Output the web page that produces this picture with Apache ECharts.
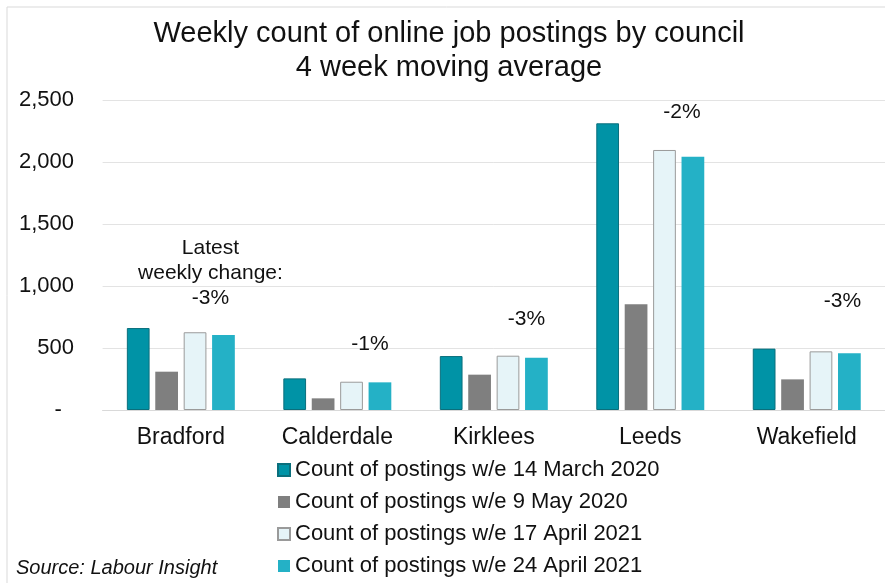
<!DOCTYPE html>
<html>
<head>
<meta charset="utf-8">
<script src="https://cdn.jsdelivr.net/npm/echarts@6/dist/echarts.min.js"></script>
<style>
html,body{margin:0;padding:0;background:#fff;}
#chart{width:885px;height:583px;}
</style>
</head>
<body>
<div id="chart"></div>
<script>
// ---- data ----
var councils = ['Bradford', 'Calderdale', 'Kirklees', 'Leeds', 'Wakefield'];
var seriesNames = [
  'Count of postings w/e 14 March 2020',
  'Count of postings w/e 9 May 2020',
  'Count of postings w/e 17 April 2021',
  'Count of postings w/e 24 April 2021'
];
var mar2020 = [661, 255, 435, 2312, 495];
var may2020 = [309, 94, 285, 852, 247];
var apr17_2021 = [627, 228, 438, 2097, 473];
var apr24_2021 = [605, 223, 422, 2043, 457];
var weeklyChange = ['-3%', '-1%', '-3%', '-2%', '-3%'];
var yTicks = [0, 500, 1000, 1500, 2000, 2500];

// ---- styles ----
var FONT = "'Liberation Sans', Arial, sans-serif";
var TXT = '#111111';
var colors = ['#0093a6', '#7f7f7f', '#e6f4f8', '#24b1c6'];
var borders = [
  {borderColor: '#0a6f7c', borderWidth: 1},
  {borderWidth: 0},
  {borderColor: '#9a9a9a', borderWidth: 1},
  {borderWidth: 0}
];
// label nudges (style only)
var labelDx = [-13, -10, -10, -11, -7];
var labelDy = [-24.5, -25.5, -25.5, -31.5, -39.5];

var allValues = [mar2020, may2020, apr17_2021, apr24_2021];

var series = allValues.map(function (vals, si) {
  var s = {
    name: seriesNames[si],
    type: 'bar',
    barGap: '25%',
    barCategoryGap: '31%',
    itemStyle: Object.assign({color: colors[si]}, borders[si]),
    emphasis: {disabled: true},
    data: vals.slice()
  };
  if (si === 3) {
    s.data = vals.map(function (v, i) {
      var txt = (i === 0 ? 'Latest\nweekly change:\n' : '') + weeklyChange[i];
      return {
        value: v,
        label: {
          show: true,
          position: 'top',
          distance: 0,
          offset: [labelDx[i], labelDy[i]],
          formatter: txt,
          fontFamily: FONT,
          fontSize: 21,
          lineHeight: 25,
          color: TXT,
          align: 'center'
        }
      };
    });
  }
  return s;
});

var chart = echarts.init(document.getElementById('chart'), null, {renderer: 'canvas'});
chart.setOption({
  animation: false,
  backgroundColor: '#ffffff',
  color: colors,
  textStyle: {fontFamily: FONT},
  graphic: [
    {
      type: 'rect',
      shape: {x: 7, y: 7, width: 900, height: 600},
      style: {fill: 'none', stroke: '#d9d9d9', lineWidth: 1},
      silent: true, z: -1
    },
    {
      type: 'text',
      x: 449, y: 17,
      style: {
        text: 'Weekly count of online job postings by council\n4 week moving average',
        font: '29px ' + FONT,
        fill: TXT,
        align: 'center',
        verticalAlign: 'top',
        lineHeight: 34
      }
    },
    {
      type: 'text',
      x: 16, y: 568,
      style: {
        text: 'Source: Labour Insight',
        font: 'italic 20px ' + FONT,
        fill: TXT,
        align: 'left',
        verticalAlign: 'middle'
      }
    }
  ],
  grid: {left: 102.6, right: -6.6, top: 100, bottom: 173, containLabel: false},
  legend: {
    orient: 'vertical',
    left: 277,
    top: 459,
    icon: 'rect',
    itemWidth: 12,
    itemHeight: 12,
    itemGap: 10,
    itemTextGap: 4,
    padding: 0,
    selectedMode: false,
    textStyle: {fontFamily: FONT, fontSize: 22, lineHeight: 22, color: TXT},
    data: seriesNames
  },
  xAxis: {
    type: 'category',
    data: councils,
    axisLine: {show: true, lineStyle: {color: '#d9d9d9', width: 1}},
    axisTick: {show: false},
    axisLabel: {fontFamily: FONT, fontSize: 23, color: TXT, margin: 16.5}
  },
  yAxis: {
    type: 'value',
    min: yTicks[0],
    max: yTicks[yTicks.length - 1],
    interval: yTicks[1] - yTicks[0],
    axisLine: {show: false},
    axisTick: {show: false},
    splitLine: {show: true, lineStyle: {color: '#e3e3e3', width: 1}},
    axisLabel: {
      fontFamily: FONT, fontSize: 22, color: TXT, margin: 28.6,
      formatter: function (v) { return v === 0 ? '-  ' : v.toLocaleString('en-US'); }
    }
  },
  series: series
});
</script>
</body>
</html>
